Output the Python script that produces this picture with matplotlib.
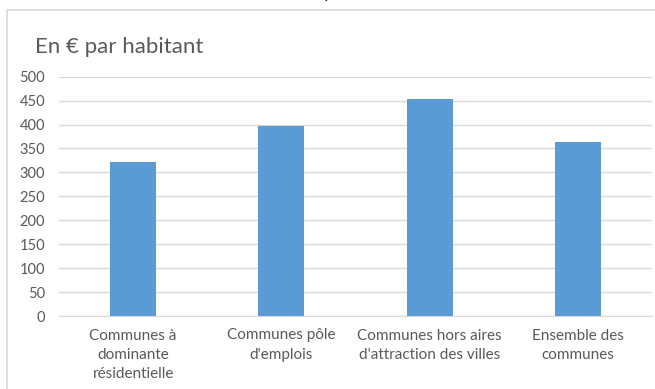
import matplotlib
matplotlib.use('Agg')
import matplotlib.pyplot as plt
from matplotlib.patches import Rectangle

plt.rcParams['font.family'] = ['Lato', 'DejaVu Sans']

categories = ['Communes à\ndominante\nrésidentielle',
              'Communes pôle\nd\'emplois',
              'Communes hors aires\nd\'attraction des villes',
              'Ensemble des\ncommunes']
values = [321, 397, 454, 363]
y_ticks = [0, 50, 100, 150, 200, 250, 300, 350, 400, 450, 500]

W, H = 655, 389
fig = plt.figure(figsize=(W / 100, H / 100), dpi=100)
ax = fig.add_axes([59 / W, 1 - 316 / H, (652 - 59) / W, (316 - 76.7) / H])

# frame around the chart area
fig.patches.append(Rectangle((7 / W, -0.1), 1.2, 1 - 10 / H + 0.1, transform=fig.transFigure,
                             fill=False, edgecolor='#d9d9d9', linewidth=1.2))

ax.bar(range(len(values)), values, width=0.31, color='#5b9bd5', zorder=3)
ax.set_xlim(-0.5, len(values) - 0.5)
ax.set_ylim(0, 500)
ax.set_yticks(y_ticks)
ax.yaxis.grid(True, color='#d9d9d9', linewidth=1, zorder=0)
ax.set_xticks(range(len(categories)))
ax.set_xticklabels(categories, fontsize=11, color='#595959', linespacing=1.5)
ax.tick_params(axis='y', length=0, pad=10, labelsize=10.5, labelcolor='#595959')
ax.tick_params(axis='x', length=0, pad=9)
for side in ['top', 'right', 'left']:
    ax.spines[side].set_visible(False)
ax.spines['bottom'].set_color('#d9d9d9')

fig.text(35 / W, 1 - 53 / H, 'En € par habitant', fontsize=16, color='#595959', va='baseline')
# bottom of the page heading above the chart
fig.text(329 / W, 1 + 1.5 / H, 'p', fontsize=14, color='#333333', ha='center', va='baseline')

fig.savefig('out.png', dpi=100)
